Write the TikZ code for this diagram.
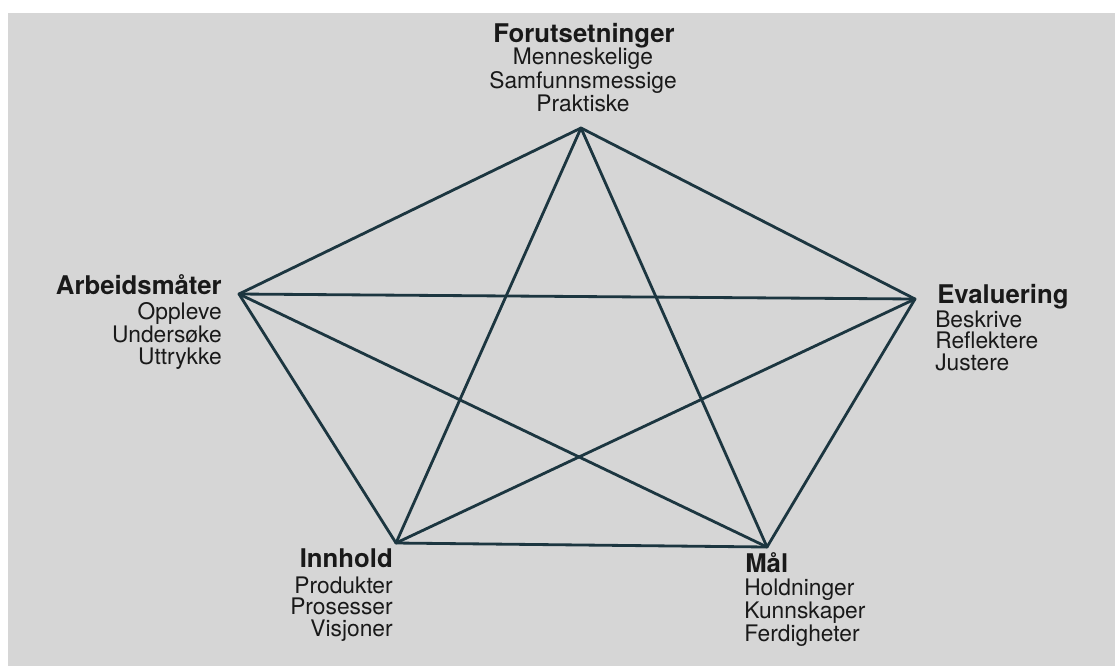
\documentclass[tikz,border=0pt]{standalone}
\usepackage{fontspec}
\setmainfont{TeX Gyre Heros}
\usepackage{xcolor}
\usepackage{tikz}
\usetikzlibrary{positioning}

\definecolor{bggray}{HTML}{D6D6D6}
\definecolor{linecol}{HTML}{1C3640}

\begin{document}
\begin{tikzpicture}[x=0.025cm,y=-0.025cm,
  every node/.style={inner sep=0pt,text=black!90},
  ttl/.style={font=\fontsize{18.3}{20}\selectfont\bfseries},
  items/.style={font=\fontsize{16.2}{15}\selectfont},
  link/.style={draw=linecol,line width=2pt,line cap=round,line join=round}]
  % background
  \useasboundingbox (0,0) rectangle (1115,666);
  \fill[white] (0,0) rectangle (1115,666);
  \fill[bggray] (8,13) rectangle (1115,666);

  % corners of the pentagon
  \coordinate (forut) at (581,128);
  \coordinate (arbeid) at (239,294);
  \coordinate (eval) at (915,299);
  \coordinate (innh) at (396,543);
  \coordinate (maal) at (767,547);

  % sides and diagonals
  \foreach \a/\b in {forut/arbeid,forut/eval,forut/innh,forut/maal,
    arbeid/eval,arbeid/innh,arbeid/maal,eval/innh,eval/maal,innh/maal} {
    \draw[link] (\a) -- (\b);
  }

  % Forutsetninger (base = last line)
  \node[ttl,anchor=base] (forutT) at (584,42) {Forutsetninger};
  \node[items,anchor=base,align=center] (forutL) at (583,111)
    {Menneskelige\\Samfunnsmessige\\Praktiske};

  % Arbeidsmaater
  \node[ttl,anchor=base east] (arbeidT) at (222,294) {Arbeidsmåter};
  \node[items,anchor=base east,align=right] (arbeidL) at (222,364)
    {Oppleve\\Undersøke\\Uttrykke};

  % Evaluering
  \node[ttl,anchor=base west] (evalT) at (937,303) {Evaluering};
  \node[items,anchor=base west,align=left] (evalL) at (935,370)
    {Beskrive\\Reflektere\\Justere};

  % Innhold
  \node[ttl,anchor=base east] (innhT) at (393,567) {Innhold};
  \node[items,anchor=base east,align=right] (innhL) at (393,636)
    {Produkter\\Prosesser\\Visjoner};

  % Maal
  \node[ttl,anchor=base west] (maalT) at (745,572) {Mål};
  \node[items,anchor=base west,align=left] (maalL) at (744,641)
    {Holdninger\\Kunnskaper\\Ferdigheter};
\end{tikzpicture}
\end{document}
